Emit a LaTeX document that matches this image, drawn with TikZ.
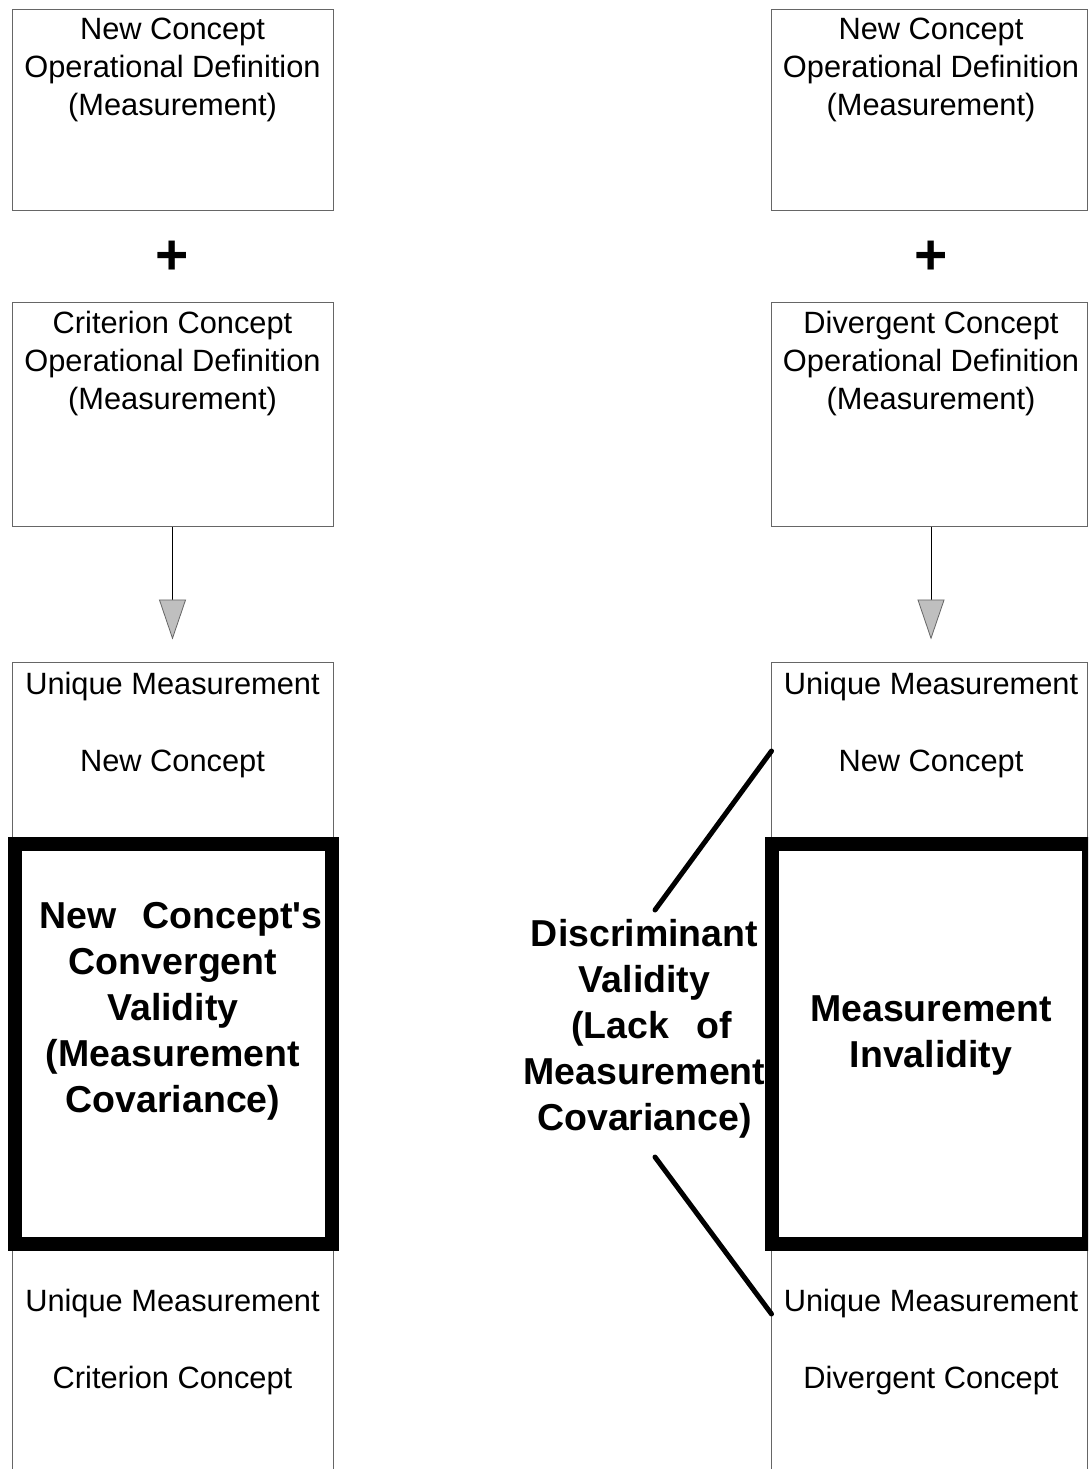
\documentclass[tikz,border=0pt]{standalone}
\usepackage{fontspec}
\setmainfont{Liberation Sans}
\usetikzlibrary{arrows.meta}
\definecolor{framegray}{gray}{0.40}
\definecolor{tipgray}{gray}{0.75}
\begin{document}
\begin{tikzpicture}[x=1pt,y=-1pt,
  frame/.style={draw=framegray, line width=1pt, inner sep=0pt},
  heavyframe/.style={draw=black, line width=14pt, inner sep=0pt, line join=miter},
  plain/.style={font=\fontsize{30.8}{38}\selectfont, anchor=base, inner sep=0pt},
  heavy/.style={font=\fontsize{37.5}{46}\selectfont\bfseries, anchor=base, inner sep=0pt},
  plus/.style={font=\fontsize{57}{60}\selectfont\bfseries, inner sep=0pt},
  feed/.style={draw=black, line width=1pt, shorten >=22pt,
    -{Triangle[width=27pt,length=40pt,color=framegray,fill=tipgray,line width=0.8pt]}},
  link/.style={line width=5pt, line cap=round}]
\clip (0,0) rectangle (1088,1469);
\fill[white] (0,0) rectangle (1088,1469);

% ---------- left column ----------
\node[frame, minimum width=321pt, minimum height=200pt] (newL) at (172.5,110) {};
\node[frame, minimum width=321pt, minimum height=224pt] (critL) at (172.5,414) {};
\node[frame, minimum width=321pt, minimum height=860pt] (uniqL) at (172.5,1092) {};
\node[heavyframe, minimum width=317pt, minimum height=400pt] (convL) at (173,1044) {};
\node[plus] (plusL) at (172,258) {+};
\draw[feed] (critL.south) -- (uniqL.north);

\foreach \txt [count=\i] in {{New Concept}, {Operational Definition}, {(Measurement)}}
  \node[plain] (newL-\i) at (172.5,{2+38*\i}) {\txt};
\foreach \txt [count=\i] in {{Criterion Concept}, {Operational Definition}, {(Measurement)}}
  \node[plain] (critL-\i) at (172.5,{295+38*\i}) {\txt};
\node[plain] (uniqL-1) at (172.5,694) {Unique Measurement};
\node[plain] (uniqL-2) at (172.5,771) {New Concept};
\node[plain] (uniqL-3) at (172.5,1311) {Unique Measurement};
\node[plain] (uniqL-4) at (172.5,1388) {Criterion Concept};
\foreach \txt/\dx [count=\i] in {{New\hspace{26pt}Concept\textquotesingle s}/8, {Convergent}/0, {Validity}/0,
    {(Measurement}/0, {Covariance)}/0}
  \node[heavy] (convL-\i) at ({173+\dx},{882+46*\i}) {\txt};

% ---------- right column ----------
\node[frame, minimum width=316.5pt, minimum height=200pt] (newR) at (929.25,110) {};
\node[frame, minimum width=316.5pt, minimum height=224pt] (divR) at (929.25,414) {};
\node[frame, minimum width=316.5pt, minimum height=860pt] (uniqR) at (929.25,1092) {};
\node[heavyframe, minimum width=317pt, minimum height=400pt] (invR) at (930,1044) {};
\node[plus] (plusR) at (931,258) {+};
\draw[feed] ([xshift=1.75pt]divR.south) -- ([xshift=1.75pt]uniqR.north);

\foreach \txt [count=\i] in {{New Concept}, {Operational Definition}, {(Measurement)}}
  \node[plain] (newR-\i) at (931,{2+38*\i}) {\txt};
\foreach \txt [count=\i] in {{Divergent Concept}, {Operational Definition}, {(Measurement)}}
  \node[plain] (divR-\i) at (931,{295+38*\i}) {\txt};
\node[plain] (uniqR-1) at (931,694) {Unique Measurement};
\node[plain] (uniqR-2) at (931,771) {New Concept};
\node[plain] (uniqR-3) at (931,1311) {Unique Measurement};
\node[plain] (uniqR-4) at (931,1388) {Divergent Concept};
\node[heavy] (invR-1) at (931,1021) {Measurement};
\node[heavy] (invR-2) at (931,1067) {Invalidity};

% ---------- discriminant validity label and its pointers ----------
\foreach \txt/\dx [count=\i] in {{Discriminant}/0, {Validity}/0,
    {(Lack\hspace{27pt}of}/7, {Measurement}/0, {Covariance)}/0}
  \node[heavy] (disc-\i) at ({644.5+\dx},{900+46*\i}) {\txt};
\coordinate (discTop) at (655,910);
\coordinate (discBot) at (655,1157);
\coordinate (ncEdge) at (771.5,751);
\coordinate (dcEdge) at (771.5,1314);
\draw[link] (discTop) -- (ncEdge);
\draw[link] (discBot) -- (dcEdge);
\end{tikzpicture}
\end{document}
